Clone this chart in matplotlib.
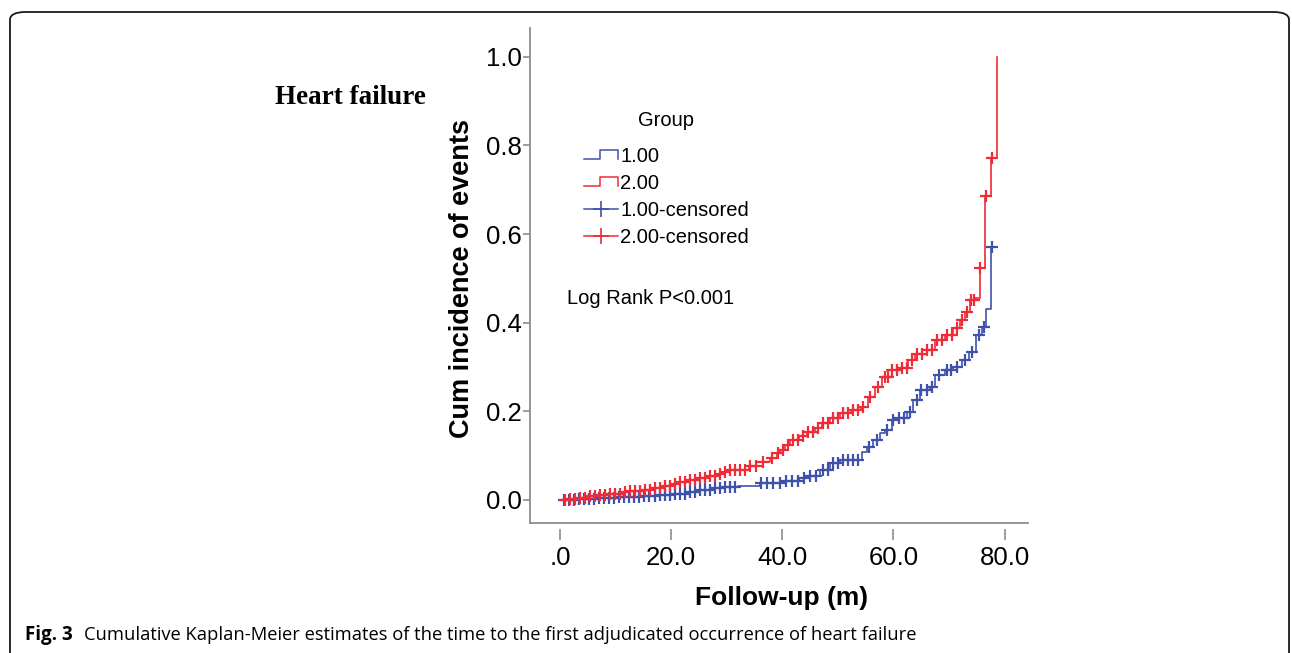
import numpy as np
import matplotlib
matplotlib.use("Agg")
import matplotlib.pyplot as plt
from matplotlib.lines import Line2D
from matplotlib.legend_handler import HandlerLine2D
from matplotlib.patches import FancyBboxPatch

# ---------------- data ----------------
blue_t = [0.0, 3.0, 7.0, 10.5, 14.4, 17.5, 20.0, 22.5, 25.0, 27.0, 28.8, 32.0, 36.0,
          39.6, 43.0, 45.0, 46.8, 48.6, 50.4, 54.3, 55.2, 56.3, 57.6, 58.5, 59.7,
          60.6, 62.4, 63.5, 64.7, 66.5, 67.4, 69.3, 70.7, 72.3, 73.6, 74.8, 75.9,
          76.6, 77.6]
blue_y = [0.000, 0.002, 0.004, 0.006, 0.009, 0.011, 0.013, 0.017, 0.023, 0.027, 0.030,
          0.032, 0.038, 0.043, 0.050, 0.055, 0.068, 0.083, 0.090, 0.108, 0.120, 0.135,
          0.151, 0.158, 0.180, 0.185, 0.199, 0.226, 0.248, 0.255, 0.282, 0.293, 0.300,
          0.316, 0.334, 0.372, 0.390, 0.430, 0.571]

red_t = [0.0, 1.5, 3.0, 5.0, 7.0, 9.0, 11.0, 12.5, 14.5, 16.5, 18.5, 20.0, 21.5, 23.0,
         25.0, 26.5, 28.0, 29.5, 30.6, 34.0, 36.5, 37.8, 39.0, 39.6, 40.5, 41.4, 43.0,
         44.5, 45.9, 47.2, 48.6, 50.4, 52.3, 54.1, 55.4, 56.7, 57.9, 59.7, 61.2, 62.6,
         63.8, 66.0, 67.4, 69.2, 70.7, 72.0, 72.9, 73.7, 74.6, 75.5, 76.5, 77.6, 78.7]
red_y = [0.000, 0.003, 0.005, 0.008, 0.011, 0.014, 0.017, 0.020, 0.023, 0.027, 0.031,
         0.036, 0.040, 0.045, 0.050, 0.054, 0.058, 0.063, 0.068, 0.077, 0.085, 0.095,
         0.105, 0.113, 0.124, 0.135, 0.144, 0.153, 0.163, 0.173, 0.185, 0.196, 0.203,
         0.210, 0.233, 0.255, 0.278, 0.293, 0.297, 0.316, 0.330, 0.338, 0.361, 0.372,
         0.388, 0.406, 0.424, 0.451, 0.456, 0.524, 0.686, 0.772, 1.000]

blue_cens = [0.8, 1.7, 2.6, 3.5, 4.4, 5.3, 6.2, 7.1, 8.0, 8.9, 9.8, 10.7, 11.6, 12.5,
             13.4, 14.3, 15.2, 16.1, 17.0, 17.9, 18.8, 19.7, 20.6, 21.5, 22.4, 23.3,
             24.2, 25.1, 26.0, 26.9, 27.8, 28.7, 29.6, 30.5, 31.4, 36.2, 37.3, 38.4,
             39.5, 40.6, 41.7, 42.8, 43.9, 45.0, 46.1, 47.3, 48.2, 49.2, 50.1, 51.0,
             51.9, 52.8, 53.7, 55.6, 57.0, 58.9, 60.0, 61.0, 61.8, 63.0, 64.2, 65.0,
             66.0, 67.0, 68.2, 69.6, 70.4, 71.5, 72.8, 74.2, 75.3, 76.2, 77.8]
red_cens = [0.9, 1.8, 2.7, 3.6, 4.5, 5.4, 6.3, 7.2, 8.1, 9.0, 9.9, 10.8, 11.7, 12.6,
            13.5, 14.4, 15.3, 16.2, 17.1, 18.0, 18.9, 19.8, 20.7, 21.6, 22.5, 23.4,
            24.3, 25.2, 26.1, 27.0, 27.9, 28.8, 29.7, 30.6, 31.5, 32.4, 33.3, 34.2,
            35.3, 36.5, 38.2, 39.2, 40.2, 41.0, 41.9, 42.8, 43.7, 44.6, 45.5, 46.4,
            47.3, 48.2, 49.1, 50.0, 50.9, 51.8, 52.7, 53.6, 54.5, 55.8, 57.2, 58.4,
            59.0, 59.8, 60.7, 61.6, 62.4, 63.3, 64.2, 65.1, 66.0, 66.9, 67.8, 68.7,
            69.6, 70.5, 71.4, 72.3, 73.2, 74.0, 74.4, 75.6, 76.6, 77.7]

x_ticks = [0, 20, 40, 60, 80]
x_ticklabels = [".0", "20.0", "40.0", "60.0", "80.0"]
y_ticks = [0.0, 0.2, 0.4, 0.6, 0.8, 1.0]
y_ticklabels = ["0.0", "0.2", "0.4", "0.6", "0.8", "1.0"]
group_labels = ["1.00", "2.00", "1.00-censored", "2.00-censored"]

BLUE = "#3F51AA"
RED = "#EE2B36"
GREY = "#8C8C8C"

W, H = 1292, 653
fig = plt.figure(figsize=(W / 100, H / 100), dpi=100)
fig.patch.set_facecolor("white")

def fx(px):
    return px / W

def fy(py):
    return 1 - py / H

# rounded frame
frame = FancyBboxPatch((fx(10), fy(700)), fx(1289) - fx(10), fy(12) - fy(700),
                       boxstyle="round,pad=0,rounding_size=0.012",
                       transform=fig.transFigure, fill=False, edgecolor="#1a1a1a",
                       linewidth=1.3, clip_on=False)
fig.patches.append(frame)

ax = fig.add_axes([fx(530), fy(523), fx(1028) - fx(530), fy(28) - fy(523)])
ax.set_xlim(-5.4, 84.2)
ax.set_ylim(-0.052, 1.065)


def extend(t, y, cens):
    t = np.asarray(t, float)
    y = np.asarray(y, float)
    last = max(cens)
    if last > t[-1]:
        t = np.append(t, last)
        y = np.append(y, y[-1])
    return t, y


def cens_y(t, y, cens):
    t = np.asarray(t, float)
    y = np.asarray(y, float)
    idx = np.searchsorted(t, np.asarray(cens, float), side="right") - 1
    return y[idx]


bt, by = extend(blue_t, blue_y, blue_cens)
rt, ry = extend(red_t, red_y, red_cens)
ax.step(bt, by, where="post", color=BLUE, lw=1.2, zorder=3)
ax.step(rt, ry, where="post", color=RED, lw=1.2, zorder=3)
ax.plot(blue_cens, cens_y(blue_t, blue_y, blue_cens), ls="none", marker="+",
        ms=8.5, mew=1.6, color=BLUE, zorder=4)
ax.plot(red_cens, cens_y(red_t, red_y, red_cens), ls="none", marker="+",
        ms=8.5, mew=1.6, color=RED, zorder=4)

for s in ["top", "right"]:
    ax.spines[s].set_visible(False)
for s in ["left", "bottom"]:
    ax.spines[s].set_color(GREY)
    ax.spines[s].set_linewidth(1.3)

ax.set_yticks(y_ticks)
ax.set_yticklabels(y_ticklabels, fontsize=18.5, family="Liberation Sans")
ax.tick_params(axis="y", direction="out", length=5, width=1.2, color=GREY, pad=1)
ax.set_xticks([])

sec = ax.secondary_xaxis(-0.013)
sec.set_xticks(x_ticks)
sec.set_xticklabels(x_ticklabels, fontsize=18.5, family="Liberation Sans")
sec.tick_params(axis="x", direction="out", length=8, width=1.2, color=GREY, pad=4)
sec.spines["bottom"].set_visible(False)


class HandlerStep(HandlerLine2D):
    def create_artists(self, legend, orig_handle, xdescent, ydescent, width,
                       height, fontsize, trans):
        xs = np.array([0.0, 0.48, 0.48, 1.0, 1.0]) * width - xdescent
        ys = np.array([0.2, 0.2, 0.85, 0.85, 0.2]) * height - ydescent
        line = Line2D(xs, ys, color=orig_handle.get_color(), lw=1.1)
        line.set_transform(trans)
        return [line]


h1 = Line2D([], [], color=BLUE, lw=1.1)
h2 = Line2D([], [], color=RED, lw=1.1)
h3 = Line2D([], [], color=BLUE, lw=1.1, marker="+", ms=11, mew=1.2)
h4 = Line2D([], [], color=RED, lw=1.1, marker="+", ms=11, mew=1.2)
leg = ax.legend([h1, h2, h3, h4], group_labels,
                handler_map={h1: HandlerStep(), h2: HandlerStep()},
                loc="upper left", bbox_to_anchor=(fx(584), fy(147)),
                bbox_transform=fig.transFigure, frameon=False,
                prop={"family": "Liberation Sans", "size": 14.5},
                handlelength=1.7, handletextpad=0.1, labelspacing=0.4,
                borderpad=0, borderaxespad=0, numpoints=1)

fig.text(fx(666), fy(121), "Group", fontsize=14.5, family="Liberation Sans",
         ha="center", va="center")
fig.text(fx(567), fy(299), "Log Rank P<0.001", fontsize=14.5,
         family="Liberation Sans", ha="left", va="center")
fig.text(fx(350), fy(97), "Heart failure", fontsize=19.5, fontweight="bold",
         family="Liberation Serif", ha="center", va="center")
fig.text(fx(462), fy(278), "Cum incidence of events", fontsize=19.5,
         fontweight="bold", family="Liberation Sans", rotation=90,
         ha="center", va="center")
fig.text(fx(782), fy(598), "Follow-up (m)", fontsize=19, fontweight="bold",
         family="Liberation Sans", ha="center", va="center")

fig.text(fx(25), fy(635), "Fig. 3", fontsize=13.5, fontweight="bold",
         family="Open Sans", ha="left", va="center")
fig.text(fx(84), fy(635),
         "Cumulative Kaplan-Meier estimates of the time to the first adjudicated "
         "occurrence of heart failure",
         fontsize=13.2, family="Open Sans", ha="left", va="center")

fig.savefig("out.png", dpi=100, facecolor="white")
